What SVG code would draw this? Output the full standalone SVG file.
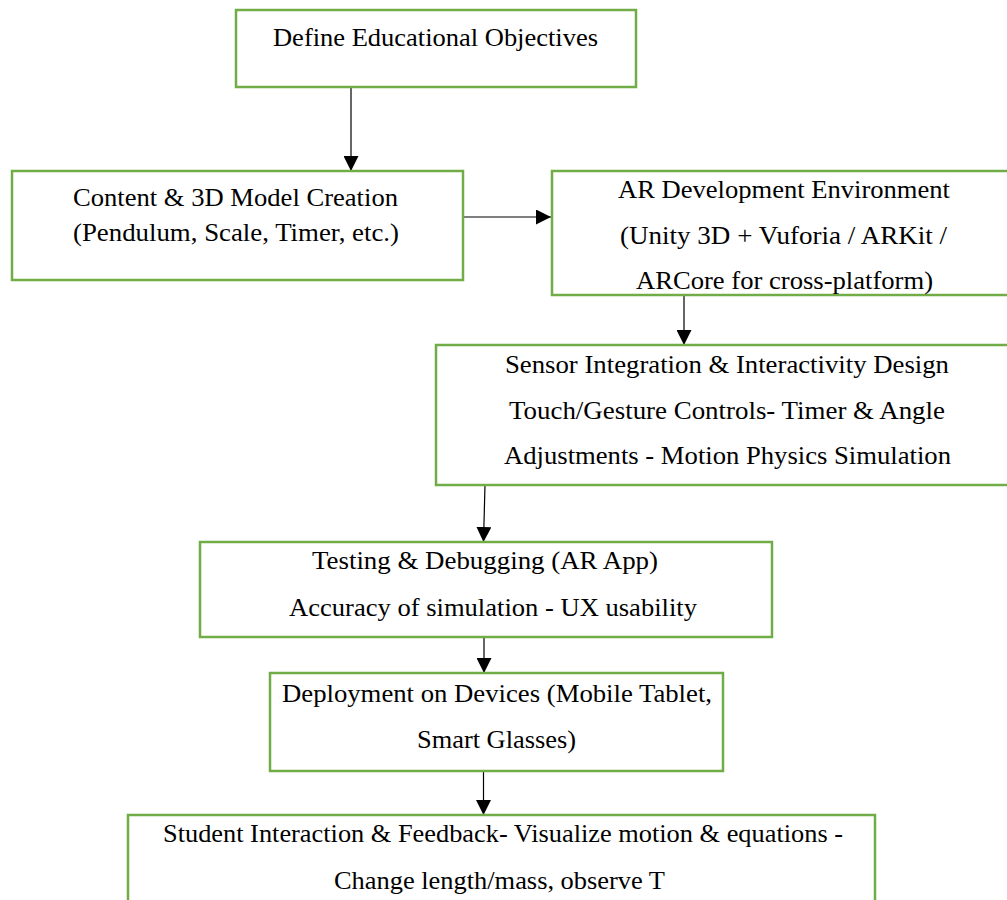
<svg xmlns="http://www.w3.org/2000/svg" width="1007" height="900" viewBox="0 0 1007 900">
<style>
.box{fill:#ffffff;stroke:#70AD47;stroke-width:2.5}
text{font-family:'Liberation Serif',serif;font-size:25px;fill:#000000}
.c{stroke:#000000;stroke-width:1.2;fill:none;marker-end:url(#ah)}
</style>
<defs>
<marker id="ah" markerUnits="userSpaceOnUse" markerWidth="15" markerHeight="15" refX="15" refY="7.5" orient="auto">
<path d="M0,0 L15,7.5 L0,15 z" fill="#000000"/>
</marker>
</defs>
<rect width="1007" height="900" fill="#ffffff"/>
<g id="connectors">
<line class="c" x1="351" y1="87" x2="351" y2="171"/>
<line class="c" x1="463" y1="217" x2="551" y2="217"/>
<line class="c" x1="684" y1="295" x2="684" y2="345"/>
<line class="c" x1="485" y1="485" x2="483.5" y2="542"/>
<line class="c" x1="484" y1="637" x2="484" y2="673"/>
<line class="c" x1="483.5" y1="771" x2="483.5" y2="815"/>
</g>
<g id="n1">
<rect class="box" x="236" y="10" width="400" height="77"/>
<text x="273" y="46" textLength="325" lengthAdjust="spacingAndGlyphs">Define Educational Objectives</text>
</g>
<g id="n2">
<rect class="box" x="12" y="171" width="451" height="109"/>
<text x="73" y="206" textLength="325" lengthAdjust="spacingAndGlyphs">Content &amp; 3D Model Creation</text>
<text x="73" y="241" textLength="326" lengthAdjust="spacingAndGlyphs">(Pendulum, Scale, Timer, etc.)</text>
</g>
<g id="n3">
<rect class="box" x="552" y="171" width="470" height="124"/>
<text x="618" y="198" textLength="332" lengthAdjust="spacingAndGlyphs">AR Development Environment</text>
<text x="620" y="244" textLength="327" lengthAdjust="spacingAndGlyphs">(Unity 3D + Vuforia / ARKit /</text>
<text x="636" y="289" textLength="297" lengthAdjust="spacingAndGlyphs">ARCore for cross-platform)</text>
</g>
<g id="n4">
<rect class="box" x="436" y="345" width="590" height="140"/>
<text x="505" y="373" textLength="444" lengthAdjust="spacingAndGlyphs">Sensor Integration &amp; Interactivity Design</text>
<text x="509" y="419" textLength="436" lengthAdjust="spacingAndGlyphs">Touch/Gesture Controls- Timer &amp; Angle</text>
<text x="504" y="464" textLength="447" lengthAdjust="spacingAndGlyphs">Adjustments - Motion Physics Simulation</text>
</g>
<g id="n5">
<rect class="box" x="200" y="542" width="572" height="95"/>
<text x="312" y="569" textLength="346" lengthAdjust="spacingAndGlyphs">Testing &amp; Debugging (AR App)</text>
<text x="289" y="616" textLength="408" lengthAdjust="spacingAndGlyphs">Accuracy of simulation - UX usability</text>
</g>
<g id="n6">
<rect class="box" x="270" y="673" width="453" height="98"/>
<text x="282" y="702" textLength="430" lengthAdjust="spacingAndGlyphs">Deployment on Devices (Mobile Tablet,</text>
<text x="417" y="748" textLength="159" lengthAdjust="spacingAndGlyphs">Smart Glasses)</text>
</g>
<g id="n7">
<rect class="box" x="128" y="815" width="747" height="110"/>
<text x="163" y="842" textLength="680" lengthAdjust="spacingAndGlyphs">Student Interaction &amp; Feedback- Visualize motion &amp; equations -</text>
<text x="334" y="889" textLength="331" lengthAdjust="spacingAndGlyphs">Change length/mass, observe T</text>
</g>
</svg>
